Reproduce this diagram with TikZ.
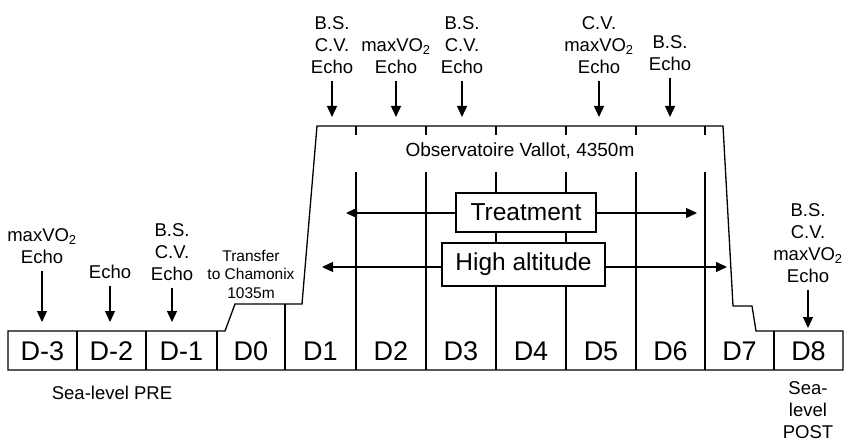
\documentclass[tikz,border=0pt]{standalone}
\usepackage{fontspec}
\setmainfont{Liberation Sans}
\usetikzlibrary{arrows.meta,positioning}

\begin{document}
\begin{tikzpicture}[x=1pt,y=-1pt]
\tikzset{
  dayname/.style={font=\fontsize{27}{30}\selectfont,inner sep=0pt},
  testlist/.style={align=center,font=\fontsize{18.5}{22}\selectfont,inner sep=1pt},
  smalltext/.style={align=center,font=\fontsize{15.5}{18.5}\selectfont,inner sep=1pt},
  phasebox/.style={draw=black,fill=white,line width=1.2pt,font=\fontsize{24.5}{27}\selectfont,inner sep=0pt},
  outline/.style={draw=black,line width=1.3pt,line join=miter},
  arrowline/.style={draw=black,line width=1.3pt,-{Triangle[length=11pt,width=10pt]}}
}
\useasboundingbox (0,0) rectangle (848,441);
% altitude profile
\draw[outline] (8,331) -- (225,331) -- (235,304) -- (302,304) -- (317,126)
  -- (723,126) -- (733,306) -- (752,306) -- (756,331) -- (843,331)
  -- (843,370) -- (8,370) -- cycle;
\foreach \x in {77,146,217,774}
  \draw[outline] (\x,331) -- (\x,370);
\draw[outline] (285,304) -- (285,370);
\foreach \x in {356,426,496,566,636,705} {
  \draw[outline] (\x,126) -- (\x,135);
  \draw[outline] (\x,172) -- (\x,370);
}
% days
\foreach \id/\x/\txt in {dm3/42.5/D-3,dm2/111.5/D-2,dm1/181.5/D-1,d0/251/D0,
    d1/320.5/D1,d2/391/D2,d3/461/D3,d4/531/D4,d5/601/D5,d6/670.5/D6,
    d7/739.5/D7,d8/808.5/D8}
  \node[dayname] (day_\id) at (\x,351) {\txt};
\node[testlist] (pre) at (112,393) {Sea-level PRE};
\node[testlist] (post) at (808,410) {Sea-\\level\\POST};
\node[smalltext] (transfer) at (251,274) {Transfer\\to Chamonix\\1035m};
\node[font=\fontsize{19}{22}\selectfont] (vallot) at (520,151) {Observatoire Vallot, 4350m};
% tests
\node[testlist] (t_dm3) at (42,246) {maxVO\textsubscript{2}\\Echo};
\node[testlist] (t_dm2) at (110,272) {Echo};
\node[testlist] (t_dm1) at (172,252) {B.S.\\C.V.\\Echo};
\node[testlist] (t_d1) at (332,45) {B.S.\\C.V.\\Echo};
\node[testlist] (t_d2) at (396,56) {maxVO\textsubscript{2}\\Echo};
\node[testlist] (t_d3) at (462,45) {B.S.\\C.V.\\Echo};
\node[testlist] (t_d5) at (599,45) {C.V.\\maxVO\textsubscript{2}\\Echo};
\node[testlist] (t_d6) at (670,53) {B.S.\\Echo};
\node[testlist] (t_d8) at (808,243) {B.S.\\C.V.\\maxVO\textsubscript{2}\\Echo};
\coordinate (a_dm3) at (42,322);
\coordinate (a_dm2) at (110,322);
\coordinate (a_dm1) at (172,322);
\coordinate (a_d1) at (332,117);
\coordinate (a_d2) at (396,117);
\coordinate (a_d3) at (462,117);
\coordinate (a_d5) at (599,117);
\coordinate (a_d6) at (670,117);
\coordinate (a_d8) at (808,328);
\foreach \id in {dm3,dm2,dm1,d1,d2,d3,d5,d6,d8}
  \draw[arrowline,shorten <=6pt] (t_\id) -- (a_\id);
% phases
\node[phasebox,minimum width=140pt,minimum height=39pt] (treat) at (526,212.5) {Treatment};
\node[phasebox,minimum width=163pt,minimum height=43pt] (alt) at (523.5,264.5) {High altitude};
\coordinate (treat_l) at (346,213);
\coordinate (treat_r) at (697,213);
\coordinate (alt_l) at (322,267);
\coordinate (alt_r) at (727,267);
\draw[arrowline] (treat.west |- treat_l) -- (treat_l);
\draw[arrowline] (treat.east |- treat_r) -- (treat_r);
\draw[arrowline] (alt.west |- alt_l) -- (alt_l);
\draw[arrowline] (alt.east |- alt_r) -- (alt_r);
\end{tikzpicture}
\end{document}
